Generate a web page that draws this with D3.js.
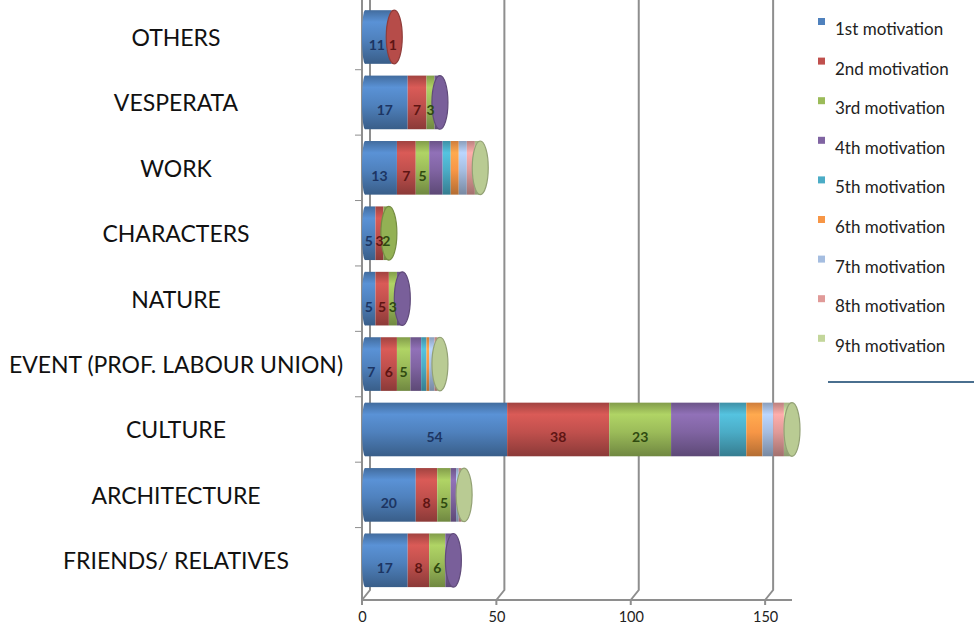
<!DOCTYPE html>
<html>
<head>
<meta charset="utf-8">
<script src="https://cdn.jsdelivr.net/npm/d3@7"></script>
<style>
  body { margin: 0; background: #fff; }
  svg { display: block; font-family: Lato, "Open Sans", sans-serif; }
</style>
</head>
<body>
<svg id="chart" width="974" height="634"></svg>
<script>
const categories = [
  "OTHERS",
  "VESPERATA",
  "WORK",
  "CHARACTERS",
  "NATURE",
  "EVENT (PROF. LABOUR UNION)",
  "CULTURE",
  "ARCHITECTURE",
  "FRIENDS/ RELATIVES",
];

const seriesNames = [
  "1st motivation",
  "2nd motivation",
  "3rd motivation",
  "4th motivation",
  "5th motivation",
  "6th motivation",
  "7th motivation",
  "8th motivation",
  "9th motivation",
];

// one array per motivation, same order as categories
const m1 = [11, 17, 13, 5, 5, 7, 54, 20, 17];
const m2 = [1, 7, 7, 3, 5, 6, 38, 8, 8];
const m3 = [0, 3, 5, 2, 3, 5, 23, 5, 6];
const m4 = [0, 2, 5, 0, 2, 4, 18, 2, 3];
const m5 = [0, 0, 3, 0, 0, 2, 10, 0, 0];
const m6 = [0, 0, 3, 0, 0, 1, 6, 0, 0];
const m7 = [0, 0, 3, 0, 0, 2, 4, 1, 0];
const m8 = [0, 0, 3, 0, 0, 1, 4, 1, 0];
const m9 = [0, 0, 2, 0, 0, 1, 3, 1, 0];

const xTicks = [0, 50, 100, 150];

const colors = [
  "#4f81bd", "#c0504d", "#9bbb59", "#8064a2", "#4bacc6",
  "#f79646", "#a5bde0", "#e09a98", "#c3d69b",
];
const labelColors = ["#1c3563", "#5e1513", "#2f4a10"];

const allSeries = [m1, m2, m3, m4, m5, m6, m7, m8, m9];
const rows = categories.map((c, i) => {
  const r = { cat: c };
  seriesNames.forEach((s, j) => (r[s] = allSeries[j][i]));
  return r;
});

const svg = d3.select("#chart");
const x = d3.scaleLinear().domain([0, 160]).range([362, 792]);
const y = d3.scaleBand().domain(categories).range([4.3, 593])
  .paddingInner(0.18).paddingOuter(0.09);
const floorY = 600;
const depth = 8;
const grey = "#8e8e8e";

// gradients for the cylinder look
const defs = svg.append("defs");
colors.forEach((c, i) => {
  const g = defs.append("linearGradient")
    .attr("id", "g" + i)
    .attr("x1", 0).attr("y1", 0).attr("x2", 0).attr("y2", 1);
  const base = d3.color(c);
  g.append("stop").attr("offset", "0%").attr("stop-color", base.darker(0.5));
  g.append("stop").attr("offset", "22%").attr("stop-color", base.brighter(0.35));
  g.append("stop").attr("offset", "55%").attr("stop-color", base);
  g.append("stop").attr("offset", "100%").attr("stop-color", base.darker(0.9));
});

// walls / gridlines
const grid = svg.append("g").attr("stroke", grey).attr("stroke-width", 2).attr("fill", "none");
xTicks.forEach((t) => {
  grid.append("path")
    .attr("d", `M${x(t) + depth},0 V${floorY - 10} L${x(t)},${floorY}`);
});
grid.append("line")
  .attr("x1", x(0)).attr("x2", x(0)).attr("y1", 0).attr("y2", floorY);
grid.append("line")
  .attr("x1", x(0)).attr("x2", x(160)).attr("y1", floorY).attr("y2", floorY);
xTicks.forEach((t) => {
  grid.append("line").attr("x1", x(t)).attr("x2", x(t))
    .attr("y1", floorY).attr("y2", floorY + 5);
});
categories.forEach((c, i) => {
  const yy = 4.3 + y.step() * i;
  if (i > 0) grid.append("line").attr("x1", x(0) - 7).attr("x2", x(0))
    .attr("y1", yy).attr("y2", yy).attr("stroke-width", 1);
});

// x axis labels
const xAxis = svg.append("g")
  .attr("transform", `translate(0,${floorY + 9})`)
  .call(d3.axisBottom(x).tickValues(xTicks).tickSize(0).tickPadding(3));
xAxis.select(".domain").remove();
xAxis.selectAll("text").attr("font-size", 14.5).attr("fill", "#222")
  .attr("font-family", "Lato, sans-serif");

// category labels
svg.append("g").selectAll("text")
  .data(categories).join("text")
  .attr("x", 176)
  .attr("y", (d) => y(d) + y.bandwidth() / 2 + 9)
  .attr("text-anchor", "middle")
  .attr("font-size", 23)
  .attr("fill", "#111")
  .text((d) => d);

// stacked cylinders
const stack = d3.stack().keys(seriesNames)(rows);
const bw = y.bandwidth();
const capRx = 8;

// left rounded ends
svg.append("g").selectAll("ellipse")
  .data(rows).join("ellipse")
  .attr("cx", x(0) + 3).attr("cy", (d) => y(d.cat) + bw / 2)
  .attr("rx", 3).attr("ry", bw / 2)
  .attr("fill", "url(#g0)");

stack.forEach((s, si) => {
  svg.append("g").selectAll("rect")
    .data(s.filter((d) => d[1] > d[0]))
    .join("rect")
    .attr("x", (d) => x(d[0]) + (si === 0 ? 3 : 0))
    .attr("y", (d) => y(d.data.cat))
    .attr("width", (d) => x(d[1]) - x(d[0]) - (si === 0 ? 3 : 0))
    .attr("height", bw)
    .attr("fill", `url(#g${si})`);
});

// end caps
rows.forEach((r) => {
  let last = 0;
  seriesNames.forEach((s, j) => { if (r[s] > 0) last = j; });
  const total = d3.sum(seriesNames, (s) => r[s]);
  svg.append("ellipse")
    .attr("cx", x(total)).attr("cy", y(r.cat) + bw / 2)
    .attr("rx", capRx).attr("ry", bw / 2)
    .attr("fill", d3.color(colors[last]).darker(0.15))
    .attr("stroke", d3.color(colors[last]).darker(0.8))
    .attr("stroke-width", 1.2);
});

// data labels for the first three motivations
stack.slice(0, 3).forEach((s, si) => {
  svg.append("g").selectAll("text")
    .data(s.filter((d) => d[1] > d[0]))
    .join("text")
    .attr("x", (d) => (x(d[0]) + x(d[1])) / 2)
    .attr("y", (d) => y(d.data.cat) + bw / 2 + 13)
    .attr("text-anchor", "middle")
    .attr("font-size", 14)
    .attr("font-weight", "bold")
    .attr("fill", labelColors[si])
    .text((d) => d[1] - d[0]);
});

// legend
const legend = svg.append("g");
const item = legend.selectAll("g")
  .data(seriesNames).join("g")
  .attr("transform", (d, i) => `translate(818,${28 + i * 39.6})`);
item.append("rect")
  .attr("x", 0).attr("y", -10).attr("width", 7).attr("height", 7)
  .attr("fill", (d, i) => colors[i]);
item.append("text")
  .attr("x", 17).attr("y", 7)
  .attr("font-size", 17)
  .attr("fill", "#222")
  .text((d) => d);
legend.append("line")
  .attr("x1", 828).attr("x2", 974).attr("y1", 382).attr("y2", 382)
  .attr("stroke", "#4a6f8f").attr("stroke-width", 2);
</script>
</body>
</html>
